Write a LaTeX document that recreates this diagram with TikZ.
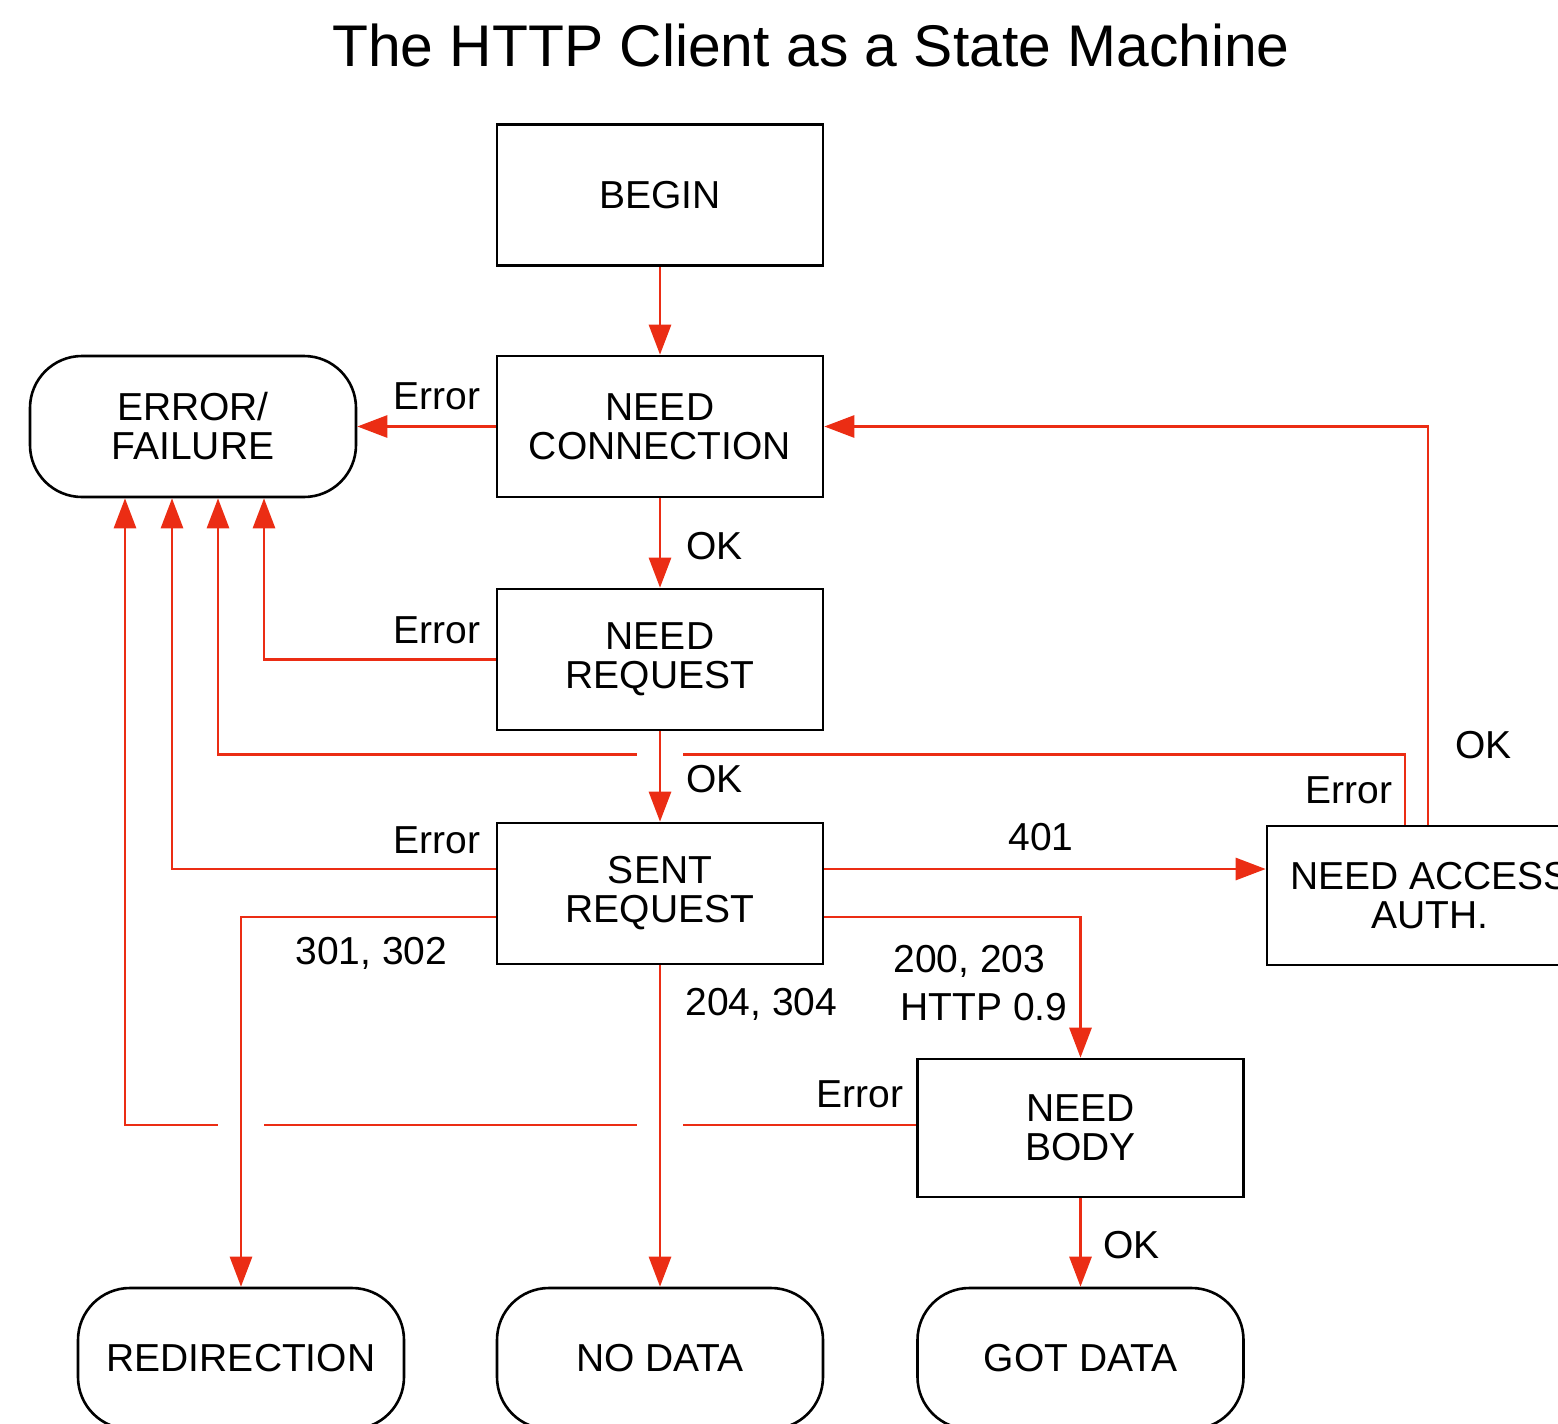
\documentclass[tikz,border=0pt]{standalone}
\usepackage{fontspec}
\setmainfont{Liberation Sans}
\usetikzlibrary{arrows.meta,calc}
\definecolor{wire}{RGB}{235,45,20}
\begin{document}
\begin{tikzpicture}[x=0.5pt,y=-0.5pt,
  every node/.style={font=\fontsize{19.5}{19.5}\selectfont, text=black},
  statebox/.style={draw=black, line width=1.3pt, minimum width=163pt, minimum height=70.5pt, inner sep=0pt, align=center},
  term/.style={statebox, rounded corners=26pt},
  arr/.style={draw=wire, line width=1.4pt, -{Triangle[length=15pt,width=11pt]}},
  lbl/.style={inner sep=0pt},
  knock/.style={fill=white, draw=none}
]
\useasboundingbox (0,0) rectangle (1558,1424);
\clip (0,0) rectangle (1558,1424);

% title
\node[font=\fontsize{29.4}{30}\selectfont, anchor=base, inner sep=0pt] (title) at (811,66) {The HTTP Client as a State Machine};

% states
\node[statebox] (begin) at (660,195) {BEGIN};
\node[statebox] (needconn) at (660,426.5) {NEED\\CONNECTION};
\node[term] (err) at (193,426.5) {ERROR/\\FAILURE};
\node[statebox] (needreq) at (660,659.5) {NEED\\REQUEST};
\node[statebox] (sent) at (660,893.5) {SENT\\REQUEST};
\node[statebox, minimum height=69.5pt] (auth) at (1430,895.5) {NEED ACCESS\\AUTH.};
\node[statebox, minimum height=69pt] (needbody) at (1080.5,1128) {NEED\\BODY};
\node[term] (redir) at (241,1358.5) {REDIRECTION};
\node[term] (nodata) at (660,1358.5) {NO DATA};
\node[term] (gotdata) at (1080.5,1358.5) {GOT DATA};

% ports on the error state
\coordinate (eA) at ($(err.south)+(-68,0)$);
\coordinate (eB) at ($(err.south)+(-21,0)$);
\coordinate (eC) at ($(err.south)+(25,0)$);
\coordinate (eD) at ($(err.south)+(71,0)$);

% error connectors
\draw[arr] (needconn.west) -- (err.east);
\draw[arr] (needreq.west) -| (eD);
\draw[arr] ($(auth.north)+(-25,0)$) |- ($(eC)+(0,256)$) -- (eC);
\draw[arr] ($(sent.west)+(0,-24.5)$) -| (eB);
\draw[arr] ($(needbody.west)+(0,-3)$) -| (eA);

% crossing gaps
\fill[knock] (637,745) rectangle (683,761);
\fill[knock] (637,1117) rectangle (683,1133);
\fill[knock] (218,1117) rectangle (264,1133);

% main flow
\draw[arr] (begin) -- (needconn);
\draw[arr] (needconn) -- (needreq);
\draw[arr] (needreq) -- (sent);
\coordinate (s1) at ($(sent.east)+(0,-24.5)$);
\draw[arr] (s1) -- (s1 -| auth.west);
\draw[arr] ($(auth.north)+(-2,0)$) |- (needconn.east);
\draw[arr] ($(sent.east)+(0,23.5)$) -| (needbody.north);
\draw[arr] ($(sent.west)+(0,23.5)$) -| (redir.north);
\draw[arr] (sent) -- (nodata);
\draw[arr] (needbody) -- (gotdata);

% labels
\node[lbl, anchor=base east] (l1) at (481,409) {Error};
\node[lbl, anchor=base west] (l2) at (686,559) {OK};
\node[lbl, anchor=base east] (l3) at (481,643) {Error};
\node[lbl, anchor=base west] (l4) at (686,792) {OK};
\node[lbl, anchor=base east] (l5) at (481,853) {Error};
\node[lbl, anchor=base west] (l6) at (1008,850) {401};
\node[lbl, anchor=base east] (l7) at (1393,803) {Error};
\node[lbl, anchor=base west] (l8) at (1455,758) {OK};
\node[lbl, anchor=base west] (l9) at (295,964) {301, 302};
\node[lbl, anchor=base west] (l10) at (685,1015) {204, 304};
\node[lbl, anchor=base west] (l11) at (893,972) {200, 203};
\node[lbl, anchor=base west] (l12) at (900,1020) {HTTP 0.9};
\node[lbl, anchor=base east] (l13) at (904,1107) {Error};
\node[lbl, anchor=base west] (l14) at (1103,1258) {OK};
\end{tikzpicture}
\end{document}
